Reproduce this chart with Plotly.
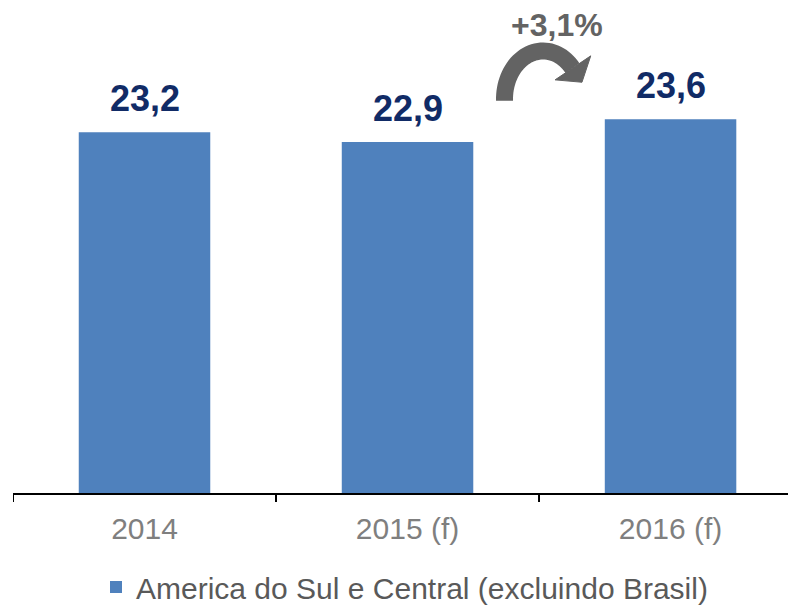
import math
import plotly.graph_objects as go

# data
categories = ["2014", "2015 (f)", "2016 (f)"]
values = [23.2, 22.9, 23.6]
value_labels = ["23,2", "22,9", "23,6"]
series_name = "America do Sul e Central (excluindo Brasil)"
growth_label = "+3,1%"

FONT = "Liberation Sans, Arial, sans-serif"
OFF = 8  # default body margin of the html page
W, H = 796 - OFF, 605 - OFF
ML, MT, MB = 13 - OFF, 0, 112
PLOT_H = H - MT - MB


def px2paper(px, py):
    # window pixel -> paper coords of the plot area
    return (px - OFF - ML) / (W - ML), (PLOT_H - (py - OFF - MT)) / PLOT_H


def path_from(points, close=False):
    s = ""
    for i, (px, py) in enumerate(points):
        x, y = px2paper(px, py)
        s += ("M" if i == 0 else "L") + f"{x:.5f},{y:.5f} "
    if close:
        s += "Z"
    return s


fig = go.Figure()
fig.add_trace(go.Bar(
    x=list(range(len(categories))), y=values, name=series_name,
    marker=dict(color="#4F81BD", line=dict(width=0)),
    width=0.5, showlegend=True,
))

# value labels above bars
for i, (v, t) in enumerate(zip(values, value_labels)):
    fig.add_annotation(x=i, y=v, text=f"<b>{t}</b>", showarrow=False,
                       yanchor="bottom", yshift=11,
                       font=dict(family=FONT, size=36, color="#112B66"))

# curved arrow between 2015 and 2016
cx, cy, rx, ry = 543, 99, 38.5, 48
th_end = 40
arc = []
for i in range(0, 41):
    th = math.radians(182 - i * (182 - th_end) / 40)
    arc.append((cx + rx * math.cos(th), cy - ry * math.sin(th)))
th = math.radians(th_end)
ex, ey = cx + rx * math.cos(th), cy - ry * math.sin(th)
dx, dy = rx * math.sin(th), ry * math.cos(th)
n = math.hypot(dx, dy)
dx, dy = dx / n, dy / n  # screen direction (down-right)
nx, ny = dy, -dx
head = [(ex + nx * 22, ey + ny * 22), (ex - nx * 21, ey - ny * 21), (ex + dx * 17, ey + dy * 17)]

fig.add_shape(type="path", xref="paper", yref="paper", path=path_from(arc),
              line=dict(color="#636363", width=17))
fig.add_shape(type="path", xref="paper", yref="paper", path=path_from(head, close=True),
              fillcolor="#636363", line=dict(color="#636363", width=1))

gx, gy = px2paper(557, 25)
fig.add_annotation(x=gx, y=gy, xref="paper", yref="paper", text=f"<b>{growth_label}</b>",
                   xanchor="center", yanchor="middle", showarrow=False,
                   font=dict(family=FONT, size=32, color="#636363"))

fig.update_layout(
    width=W, height=H,
    margin=dict(l=ML, r=0, t=MT, b=MB, autoexpand=False),
    plot_bgcolor="white", paper_bgcolor="white",
    xaxis=dict(type="linear", range=[-0.5, 2.477], showline=True, linecolor="black", linewidth=2,
               tickmode="array", tickvals=list(range(len(categories))), ticktext=categories,
               ticks="", tickfont=dict(family=FONT, size=30, color="#7F7F7F"),
               ticklabelstandoff=8, showgrid=False, zeroline=False),
    yaxis=dict(range=[12.1, 12.1 + PLOT_H / 32.5], visible=False, showgrid=False),
    legend=dict(orientation="h", x=0.5, xanchor="center", y=px2paper(0, 587)[1], yanchor="middle",
                font=dict(family=FONT, size=30, color="#595959"), itemwidth=30),
)

# boundary ticks between categories
for b in [-0.5, 0.5, 1.5, 2.5]:
    fig.add_shape(type="line", xref="x", yref="paper", x0=b, x1=b, y0=0, y1=px2paper(0, 502)[1],
                  line=dict(color="black", width=2))

fig.write_html("out.html")
